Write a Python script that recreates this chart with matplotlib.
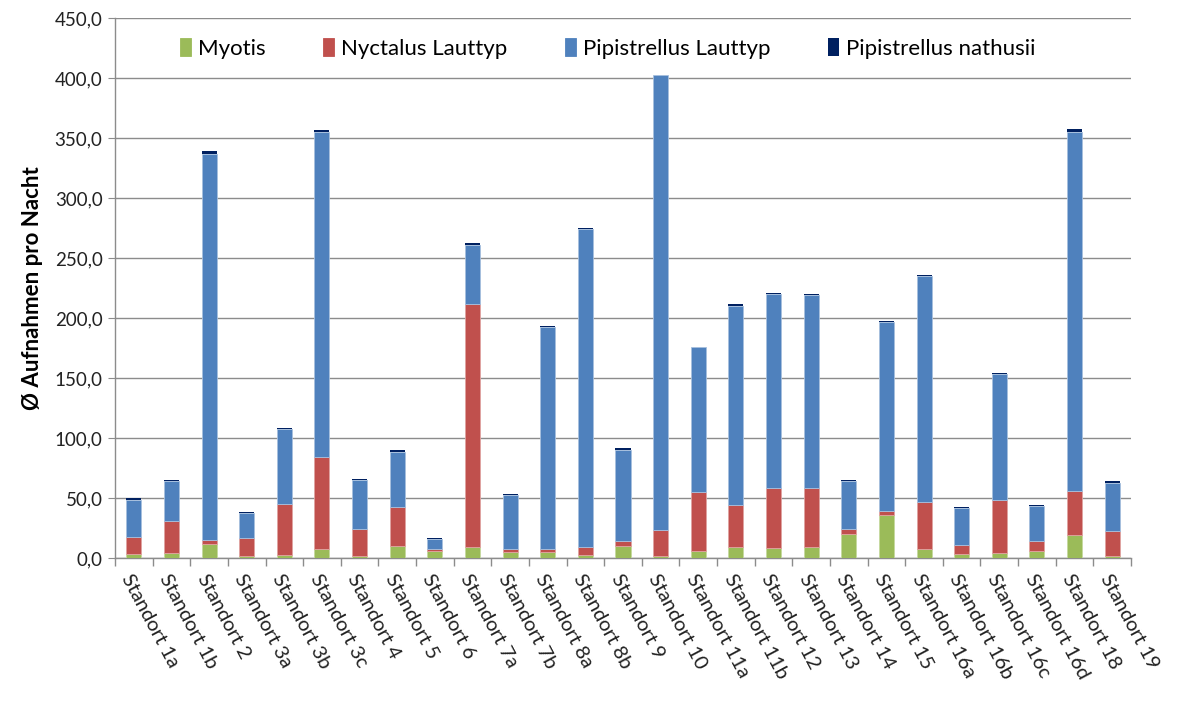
import matplotlib
matplotlib.use("Agg")
import matplotlib.pyplot as plt
from matplotlib.ticker import FuncFormatter, FixedLocator
import numpy as np

plt.rcParams['font.family'] = ['Lato', 'DejaVu Sans']

categories = ["Standort 1a", "Standort 1b", "Standort 2", "Standort 3a", "Standort 3b",
              "Standort 3c", "Standort 4", "Standort 5", "Standort 6", "Standort 7a",
              "Standort 7b", "Standort 8a", "Standort 8b", "Standort 9", "Standort 10",
              "Standort 11a", "Standort 11b", "Standort 12", "Standort 13", "Standort 14",
              "Standort 15", "Standort 16a", "Standort 16b", "Standort 16c", "Standort 16d",
              "Standort 18", "Standort 19"]

myotis = [3.6, 4.2, 11.5, 1.4, 2.8, 7.3, 2.0, 10.4, 6.2, 9.0, 5.3, 5.3, 2.8, 9.6, 1.7,
          6.2, 9.0, 8.1, 9.0, 20.2, 36.2, 7.3, 3.4, 3.9, 5.6, 19.4, 1.4]
nyctalus = [14.1, 27.0, 3.4, 15.2, 42.2, 77.0, 22.2, 32.3, 1.7, 202.7, 2.0, 2.0, 6.2, 4.7, 21.3,
            48.6, 35.4, 50.3, 49.4, 3.7, 3.1, 39.6, 7.8, 44.1, 8.4, 36.5, 21.1]
pip_laut = [30.9, 32.6, 322.0, 20.8, 62.5, 270.9, 40.7, 45.8, 8.1, 48.8, 44.9, 185.0, 264.9, 75.9, 379.2,
            120.7, 165.9, 161.6, 160.8, 39.9, 157.7, 188.1, 30.4, 105.5, 29.5, 298.8, 40.4]
pip_nath = [1.1, 1.1, 2.5, 1.1, 1.0, 1.2, 1.1, 1.1, 0.9, 2.0, 1.2, 1.0, 0.8, 1.1, 0.6,
            0.5, 1.4, 0.5, 0.5, 1.1, 0.8, 0.5, 0.8, 0.5, 0.9, 2.5, 0.9]

series = [("Myotis", myotis, "#9BBB59", "#C5D99E", 0.6),
          ("Nyctalus Lauttyp", nyctalus, "#C0504D", "#E0A3A1", 0.6),
          ("Pipistrellus Lauttyp", pip_laut, "#4F81BD", "#A7C0DE", 0.6),
          ("Pipistrellus nathusii", pip_nath, "#002060", "#002060", 0.0)]

fig = plt.figure(figsize=(11.79, 7.13), dpi=100)
ax = fig.add_axes([115/1179, 1 - 558/713, 1016/1179, 540/713])

x = np.arange(len(categories))
bottom = np.zeros(len(categories))
for name, vals, col, edge, lw in series:
    v = np.array(vals)
    ax.bar(x, v, width=0.4, bottom=bottom, color=col, edgecolor=edge, linewidth=lw,
           label=name, zorder=3)
    bottom += v

ax.set_xlim(-0.5, len(categories) - 0.5)
ax.set_ylim(0, 450)
ax.set_yticks(np.arange(0, 451, 50))
ax.yaxis.set_major_formatter(FuncFormatter(lambda v, p: f"{v:.1f}".replace(".", ",")))
ax.yaxis.grid(True, color="#8C8C8C", linewidth=1.0, zorder=0)

ax.set_xticks(x)
ax.set_xticklabels(categories, rotation=-62, ha="left", va="top", rotation_mode="anchor",
                   fontsize=14.5, color="#222222")
ax.xaxis.set_minor_locator(FixedLocator(np.arange(-0.5, len(categories), 1.0)))
ax.tick_params(axis="x", which="major", length=0, pad=10)
ax.tick_params(axis="x", which="minor", length=6, color="#8C8C8C", width=1)
ax.tick_params(axis="y", length=5, color="#8C8C8C", labelsize=13.5, labelcolor="#222222", pad=4)

for s in ["top", "right"]:
    ax.spines[s].set_visible(False)
for s in ["left", "bottom"]:
    ax.spines[s].set_color("#8C8C8C")
    ax.spines[s].set_linewidth(1.0)

ax.set_ylabel("Ø Aufnahmen pro Nacht", fontsize=16, fontweight="bold", labelpad=8)

leg = ax.legend(loc="center", bbox_to_anchor=(0.485, 0.944), ncol=4, frameon=False,
                fontsize=16, handlelength=0.5, handleheight=0.9, handletextpad=0.3,
                columnspacing=2.6)
for h in leg.legend_handles:
    h.set_edgecolor(h.get_facecolor())

fig.savefig("out.png", dpi=100)
